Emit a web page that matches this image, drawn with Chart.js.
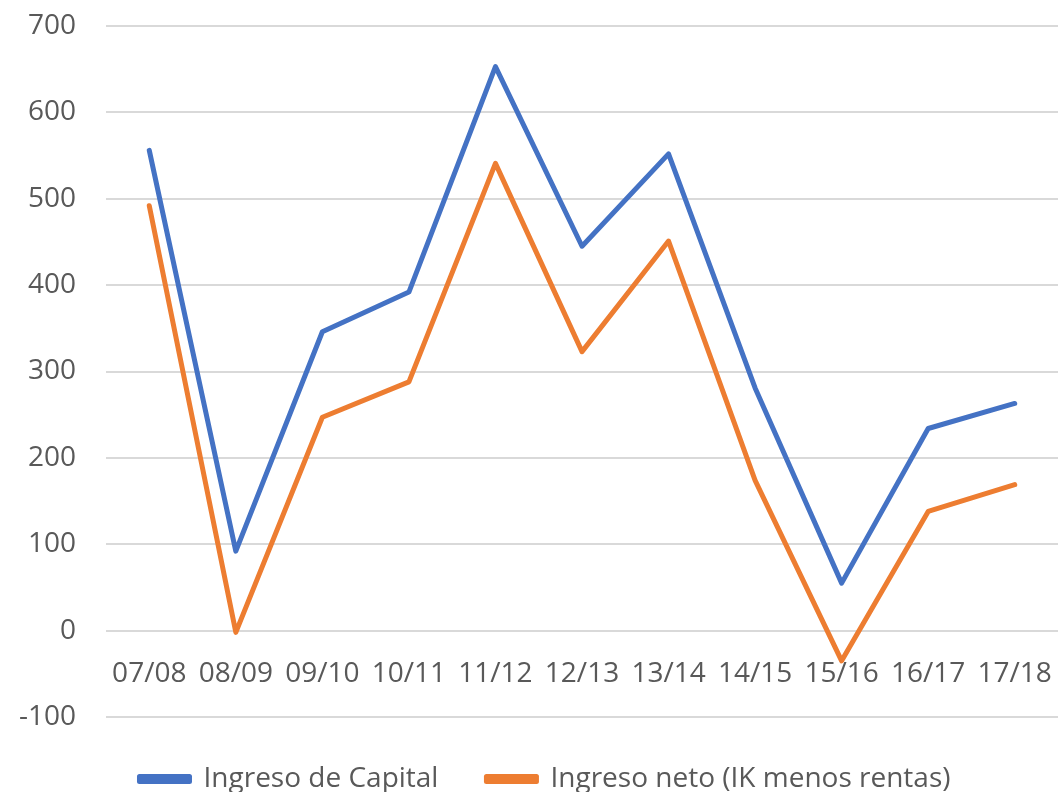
<!DOCTYPE html>
<html>
<head>
<meta charset="utf-8">
<script src="https://cdn.jsdelivr.net/npm/chart.js@4"></script>
<style>
  html, body { margin: 0; padding: 0; background: #fff; }
  #wrap { width: 1058px; height: 792px; }
</style>
</head>
<body>
<div id="wrap"><canvas id="chart"></canvas></div>
<script>
const periods = ["07/08", "08/09", "09/10", "10/11", "11/12", "12/13", "13/14", "14/15", "15/16", "16/17", "17/18"];
const ingresoCapital = [556, 92, 346, 392, 653, 445, 552, 281, 55, 234, 263];
const ingresoNeto = [492, -2, 247, 288, 541, 323, 451, 174, -35, 138, 169];
const yTicks = [-100, 0, 100, 200, 300, 400, 500, 600, 700];

const textColor = "#595959";
const font = { family: "'Open Sans', sans-serif", size: 28 };

Chart.defaults.font.family = font.family;
Chart.defaults.color = textColor;

// nudge the legend a bit right, like the original
const legendShift = {
  id: "legendShift",
  afterLayout(chart) {
    chart.legend.left = 32;
  },
};

function lineSet(label, data, color) {
  return {
    label: label,
    data: data,
    borderColor: color,
    backgroundColor: color,
    borderWidth: 5,
    pointRadius: 0,
    borderCapStyle: "round",
    borderJoinStyle: "round",
    tension: 0,
  };
}

const ctx = document.getElementById("chart").getContext("2d");
new Chart(ctx, {
  type: "line",
  data: {
    labels: periods,
    datasets: [
      lineSet("Ingreso de Capital", ingresoCapital, "#4472C4"),
      lineSet("Ingreso neto (IK menos rentas)", ingresoNeto, "#ED7D31"),
    ],
  },
  options: {
    responsive: true,
    maintainAspectRatio: false,
    animation: false,
    layout: { padding: { top: 26, right: 0, left: 0, bottom: -11 } },
    scales: {
      x: {
        position: { y: 0 },
        offset: true,
        afterFit: (s) => {
          s.height = 0;
          s.paddingLeft = 0;
          s.paddingRight = 0;
        },
        grid: { display: false },
        border: { display: false },
        ticks: { font: font, color: textColor, padding: 19, maxRotation: 0, autoSkip: false },
      },
      y: {
        min: -100,
        max: 700,
        afterBuildTicks: (axis) => {
          axis.ticks = yTicks.map((v) => ({ value: v }));
        },
        afterFit: (s) => {
          s.width = 106;
          s.paddingTop = 0;
          s.paddingBottom = 0;
        },
        grid: { color: "#d9d9d9", lineWidth: 2, drawTicks: false },
        border: { display: false },
        ticks: { font: font, color: textColor, padding: 30 },
      },
    },
    plugins: {
      legend: {
        position: "bottom",
        labels: { font: font, color: textColor, boxWidth: 50, boxHeight: 5, padding: 48 },
      },
      tooltip: { enabled: false },
    },
  },
  plugins: [legendShift],
});
</script>
</body>
</html>
